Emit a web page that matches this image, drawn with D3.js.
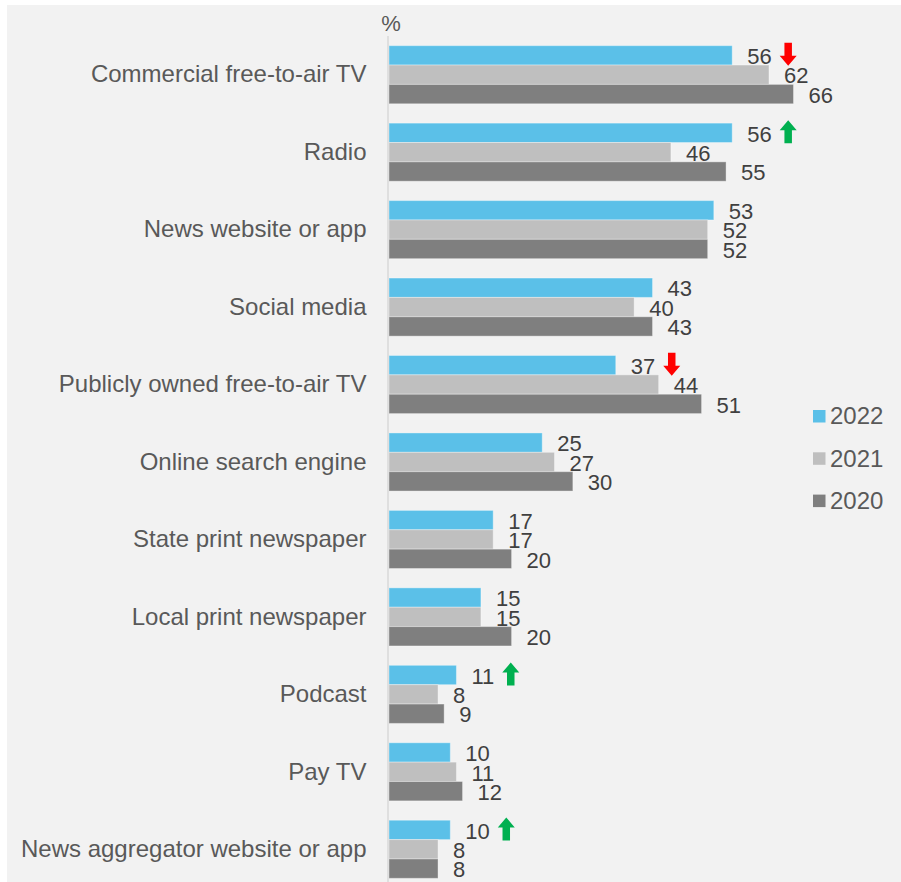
<!DOCTYPE html>
<html>
<head>
<meta charset="utf-8">
<script src="https://cdn.jsdelivr.net/npm/d3@7/dist/d3.min.js"></script>
<style>
  html, body { margin: 0; padding: 0; background: #ffffff; }
  svg { display: block; font-family: "Liberation Sans", Arial, sans-serif; }
</style>
</head>
<body>
<svg id="chart" width="901" height="882"></svg>
<script>
// Main sources of news, % of respondents
const categories = [
  "Commercial free-to-air TV",
  "Radio",
  "News website or app",
  "Social media",
  "Publicly owned free-to-air TV",
  "Online search engine",
  "State print newspaper",
  "Local print newspaper",
  "Podcast",
  "Pay TV",
  "News aggregator website or app"
];
const years = ["2022", "2021", "2020"];
const values2022 = [56, 56, 53, 43, 37, 25, 17, 15, 11, 10, 10];
const values2021 = [62, 46, 52, 40, 44, 27, 17, 15, 8, 11, 8];
const values2020 = [66, 55, 52, 43, 51, 30, 20, 20, 9, 12, 8];
// Significant change in 2022 versus 2021
const change2022 = ["down", "up", null, null, "down", null, null, null, "up", null, "up"];

const seriesValues = { "2022": values2022, "2021": values2021, "2020": values2020 };
const colors = { "2022": "#5bc0e8", "2021": "#bfbfbf", "2020": "#7f7f7f" };
const arrowColors = { up: "#00b050", down: "#ff0000" };

const svg = d3.select("#chart");
const W = 901, H = 882;

// panel background
svg.append("rect")
  .attr("x", 7).attr("y", 5)
  .attr("width", W - 7).attr("height", H - 5)
  .attr("fill", "#f2f2f2");

const x = d3.scaleLinear().domain([0, 70]).range([389, 818]);
const y = d3.scaleBand().domain(categories).range([36, 888])
  .paddingInner(0.25).paddingOuter(0.125);
const ySub = d3.scaleBand().domain(years).range([0, y.bandwidth()]);

// category axis (left)
const yAxis = d3.axisLeft(y).tickSize(0).tickPadding(22);
const gy = svg.append("g").attr("transform", `translate(${x(0) - 0.5},0)`).call(yAxis);
gy.select(".domain").remove();
gy.selectAll("text")
  .attr("font-size", 24)
  .attr("fill", "#595959")
  .attr("font-family", "Liberation Sans, Arial, sans-serif");

// groups
const rows = categories.map((c, i) => ({
  category: c,
  change: change2022[i],
  bars: years.map(yr => ({ year: yr, value: seriesValues[yr][i] }))
}));

const groups = svg.append("g").selectAll("g.row")
  .data(rows).join("g")
  .attr("class", "row")
  .attr("transform", d => `translate(0,${y(d.category)})`);

groups.selectAll("rect")
  .data(d => d.bars).join("rect")
  .attr("x", x(0))
  .attr("y", d => ySub(d.year))
  .attr("width", d => x(d.value) - x(0))
  .attr("height", ySub.bandwidth())
  .attr("fill", d => colors[d.year])
  .attr("stroke", "rgba(255,255,255,0.35)")
  .attr("stroke-width", 1);

const labels = groups.selectAll("text.val")
  .data(d => d.bars).join("text")
  .attr("class", "val")
  .attr("x", d => x(d.value) + 15)
  .attr("y", d => ySub(d.year) + ySub.bandwidth() / 2 + 1)
  .attr("dy", "0.35em")
  .attr("font-size", 22)
  .attr("fill", "#404040")
  .text(d => d.value);

// change arrows next to the 2022 label
groups.each(function (d) {
  if (!d.change) return;
  const g = d3.select(this);
  const lab = g.selectAll("text.val").filter(b => b.year === "2022");
  const b = lab.datum();
  const endX = x(b.value) + 15 + lab.node().getComputedTextLength();
  const cx = endX + 8 + 8.5;
  const cy = ySub("2022") + ySub.bandwidth() / 2 - 1;
  const w = 17, h = 23, hh = 10, sw = 7.5;
  let pts;
  if (d.change === "up") {
    const top = cy - h / 2, bot = cy + h / 2;
    pts = [[cx, top], [cx + w / 2, top + hh], [cx + sw / 2, top + hh], [cx + sw / 2, bot],
           [cx - sw / 2, bot], [cx - sw / 2, top + hh], [cx - w / 2, top + hh]];
  } else {
    const top = cy - h / 2, bot = cy + h / 2;
    pts = [[cx, bot], [cx + w / 2, bot - hh], [cx + sw / 2, bot - hh], [cx + sw / 2, top],
           [cx - sw / 2, top], [cx - sw / 2, bot - hh], [cx - w / 2, bot - hh]];
  }
  g.append("path")
    .attr("d", d3.line()(pts) + "Z")
    .attr("fill", arrowColors[d.change]);
});

// vertical axis line
svg.append("line")
  .attr("x1", x(0) - 1).attr("x2", x(0) - 1)
  .attr("y1", 36).attr("y2", H)
  .attr("stroke", "#d9d9d9").attr("stroke-width", 1.5);

// unit label
svg.append("text")
  .attr("x", x(0) + 2).attr("y", 31)
  .attr("text-anchor", "middle")
  .attr("font-size", 22)
  .attr("fill", "#595959")
  .text("%");

// legend
const legend = svg.append("g").attr("transform", "translate(813,416)");
const li = legend.selectAll("g").data(years).join("g")
  .attr("transform", (d, i) => `translate(0,${i * 42.3})`);
li.append("rect")
  .attr("x", 0).attr("y", -6)
  .attr("width", 12.5).attr("height", 12.5)
  .attr("fill", d => colors[d]);
li.append("text")
  .attr("x", 17).attr("y", 0)
  .attr("dy", "0.35em")
  .attr("font-size", 24)
  .attr("fill", "#595959")
  .text(d => d);
</script>
</body>
</html>
